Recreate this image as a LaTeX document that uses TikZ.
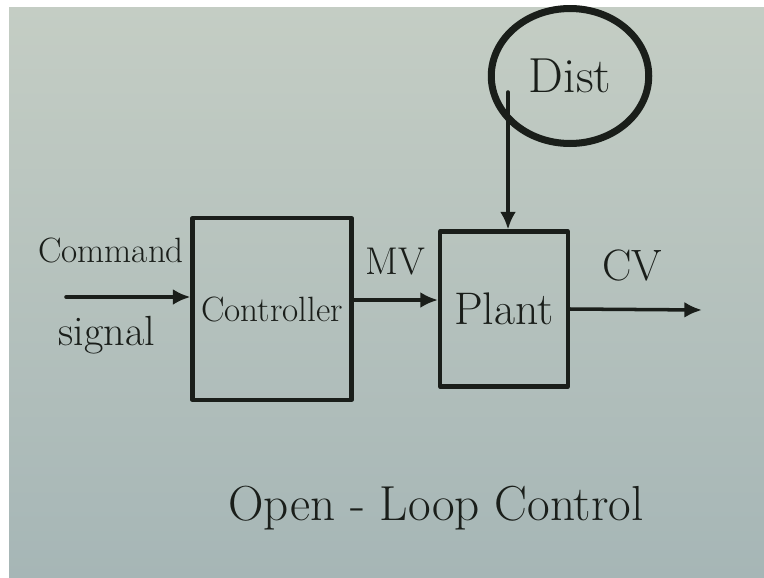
\documentclass[tikz,border=0pt]{standalone}
\usepackage{tikz}
\usetikzlibrary{arrows.meta,positioning,calc,shapes.geometric}

\definecolor{board}{RGB}{196,205,196}
\definecolor{boardlow}{RGB}{166,182,182}
\definecolor{ink}{RGB}{26,30,26}

\begin{document}
\begin{tikzpicture}[x=0.02cm, y=-0.02cm, line cap=round, line join=round]
    % Board
    \useasboundingbox (0,0) rectangle (764,578);
    \fill [white] (0,0) rectangle (764,578);
    \shade [top color=board, bottom color=boardlow] (9,7) rectangle (764,578);

    \tikzset{
        block/.style={draw=ink, line width=2.3pt, minimum width=#1},
        hand/.style={text=ink, inner sep=0pt},
        signal/.style={draw=ink, line width=2pt, -{Latex[length=10pt, width=9pt]}}
    }

    % Blocks
    \node [block=3.18cm, minimum height=3.64cm, hand] (controller) at (272,309)
        {\fontsize{20}{22}\selectfont Controller};
    \node [block=2.56cm, minimum height=3.1cm, hand] (plant) at (504,309)
        {\fontsize{26}{28}\selectfont Plant};

    % Disturbance
    \node [draw=ink, line width=4pt, ellipse, minimum width=3.15cm, minimum height=2.7cm,
           hand] (dist) at (570,76) {\fontsize{28}{30}\selectfont Dist};
    \coordinate (disttop) at (508,92);

    % Terminals
    \coordinate (cmd) at (66,297);
    \coordinate (cv) at (702,310);

    % Connections
    \draw [signal] (cmd) -- (cmd -| controller.west);
    \draw [signal] (controller.east |- 0,300) -- (plant.west |- 0,300);
    \draw [signal] (plant.east |- 0,309) -- (cv);
    \draw [signal] (disttop) -- (disttop |- plant.north);

    % Labels
    \node [hand] (command) at (111,250) {\fontsize{20}{22}\selectfont Command};
    \node [hand] (sig) at (107,335) {\fontsize{24}{26}\selectfont signal};
    \node [hand] (mv) at (395,262) {\fontsize{22}{24}\selectfont MV};
    \node [hand] (cvlabel) at (632,265) {\fontsize{25}{28}\selectfont CV};
    \node [hand] (title) at (436,508) {\fontsize{28}{32}\selectfont Open - Loop Control};
\end{tikzpicture}
\end{document}
